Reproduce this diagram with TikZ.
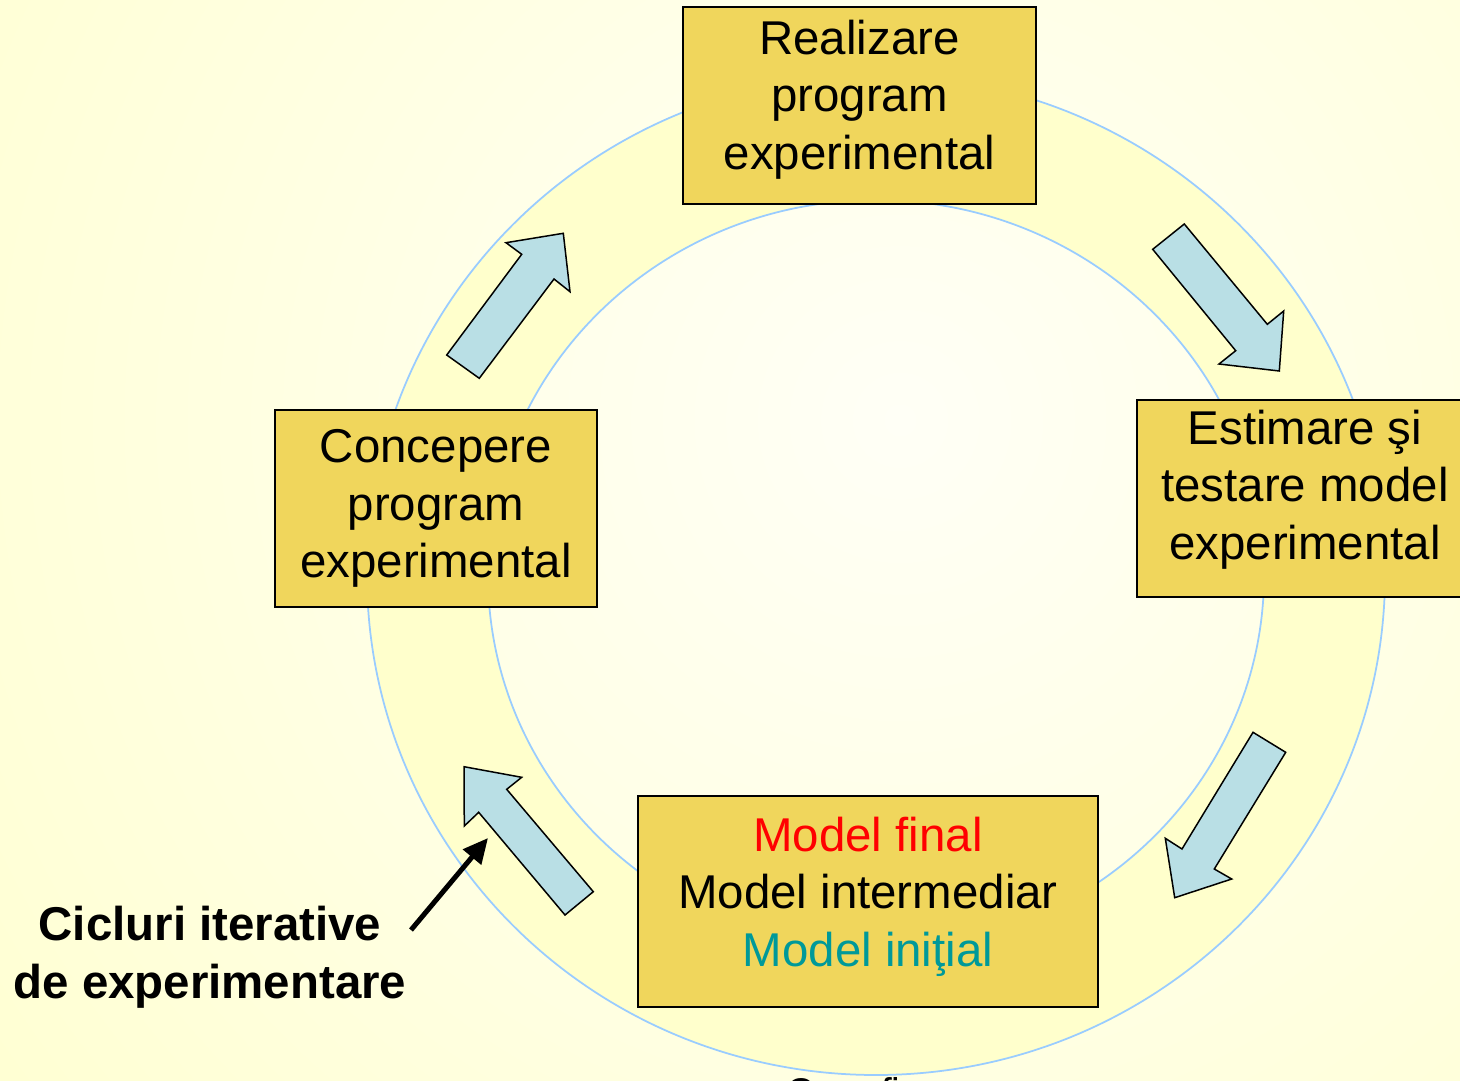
\documentclass[tikz,border=0pt]{standalone}
\usepackage{fontspec}
\setmainfont{Liberation Sans}
\usetikzlibrary{arrows.meta}

\definecolor{stagegold}{RGB}{240,214,92}
\definecolor{arrowblue}{RGB}{185,223,229}
\definecolor{ringblue}{RGB}{153,204,255}
\definecolor{ringfill}{RGB}{255,255,204}
\definecolor{modelteal}{RGB}{0,153,153}
\definecolor{glowcore}{RGB}{255,255,246}
\definecolor{glowedge}{RGB}{255,255,186}
\pgfdeclareradialshading{slideglow}{\pgfpoint{0bp}{0bp}}{color(0bp)=(glowcore); color(25bp)=(glowedge); color(50bp)=(glowedge)}

\begin{document}
\begin{tikzpicture}[x=0.02cm, y=-0.02cm, font=\fontsize{27}{32.7}\selectfont,
    stagebox/.style={draw=black, line width=0.03cm, fill=stagegold, align=center, inner sep=0pt},
    flowarrow/.style={draw=black, line width=0.03cm, fill=arrowblue, line join=miter},
    ringline/.style={draw=ringblue, line width=0.035cm}]
        \useasboundingbox (0,0) rectangle (1460,1081);
        \begin{scope}
            \clip (0,0) rectangle (1460,1081);
            \shade[shading=slideglow] (900,420) circle (1900);
        \end{scope}

        \fill[ringfill, even odd rule] (876,575) ellipse (509 and 500) (876,575) ellipse (388 and 375);
        \draw[ringline] (876,575) ellipse (509 and 500);
        \draw[ringline] (876,575) ellipse (388 and 375);

        \draw[flowarrow] (446.7,355) -- (521.7,254.3) -- (506,242.7) -- (563.3,233.3) -- (570,291.7) -- (554,279) -- (479.3,378.3) -- cycle;
        \draw[flowarrow] (1152.7,249.3) -- (1184.3,224) -- (1267.3,324.3) -- (1283.7,311) -- (1279.3,371) -- (1219,364) -- (1235.7,350.7) -- cycle;
        \draw[flowarrow] (1253,732.3) -- (1285.7,752.3) -- (1214.3,869) -- (1231.7,879) -- (1174.7,897.7) -- (1165.3,838.3) -- (1182,849) -- cycle;
        \draw[flowarrow] (464,766.7) -- (521.7,777.3) -- (506.7,789.3) -- (593.3,891.7) -- (565,915) -- (478.7,812.3) -- (464.3,826) -- cycle;

        \node[stagebox, minimum width=7.06cm, minimum height=3.94cm, text depth=0.44cm] (realizare) at (859.5,105.5) {Realizare\\program\\experimental};
        \node[stagebox, minimum width=6.44cm, minimum height=3.94cm] (concepere) at (436,508.5) {Concepere\\program\\experimental};
        \node[stagebox, minimum width=6.72cm, minimum height=3.94cm, text depth=0.56cm] (estimare) at (1305,498.5) {Estimare şi\\testare model\\experimental};
        \node[stagebox, minimum width=9.2cm, minimum height=4.22cm, text depth=0.4cm] (model) at (868,901.5) {\textcolor{red}{Model final}\\Model intermediar\\\textcolor{modelteal}{Model iniţial}};

        \node[anchor=base, font=\fontsize{22}{26}\selectfont] (carefine) at (865,1105) {Care fine};

        \node[align=center, font=\fontsize{27}{32.7}\selectfont\bfseries] (cicluri) at (210,957) {Cicluri iterative\\de experimentare};
        \coordinate (ciclufrom) at (411,930);
        \coordinate (cicluto) at (488,838);
        \draw[line width=0.1cm, -{Triangle[length=0.5cm, width=0.46cm]}] (ciclufrom) -- (cicluto);
\end{tikzpicture}
\end{document}
